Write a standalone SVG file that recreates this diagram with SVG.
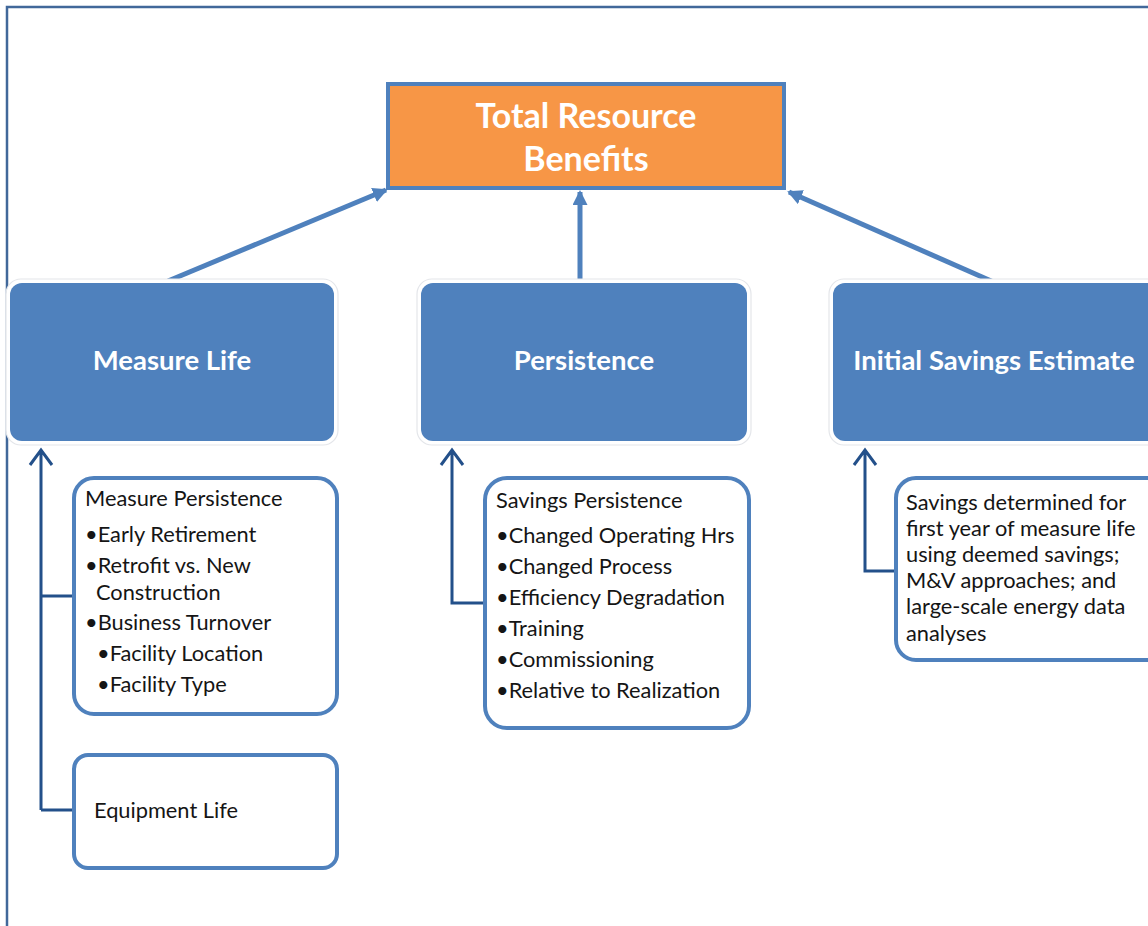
<svg xmlns="http://www.w3.org/2000/svg" width="1148" height="926" viewBox="0 0 1148 926">
<defs>
<style>
.frame{fill:none;stroke:#41689a;stroke-width:2.5}
.hdr{fill:#4f81bd}
.halo{fill:#fff;stroke:#e4e6ea;stroke-width:1.2}
.tb{fill:#fff;stroke:#4f81bd;stroke-width:4}
.w{font-family:Lato,"Liberation Sans",sans-serif;font-weight:bold;fill:#fff;text-anchor:middle}
.t{font-family:Lato,"Liberation Sans",sans-serif;font-size:21.8px;fill:#151515}
.big{stroke:#4f81bd;stroke-width:5;fill:none}
.dk{stroke:#23508a;stroke-width:3;fill:none}
</style>
<marker id="ah" markerWidth="3" markerHeight="3" refX="2.6" refY="1.5" orient="auto" markerUnits="strokeWidth">
<path d="M0,0 L3,1.5 L0,3 Z" fill="#4f81bd"/>
</marker>
</defs>
<rect width="1148" height="926" fill="#fff"/>
<path class="frame" d="M7,926 V7 H1148"/>

<g id="connectors">
<line class="big" x1="168" y1="281" x2="386" y2="190" marker-end="url(#ah)"/>
<line class="big" x1="580" y1="281" x2="580" y2="192" marker-end="url(#ah)"/>
<line class="big" x1="998" y1="284" x2="789" y2="192" marker-end="url(#ah)"/>
<path class="dk" d="M41,810 V450 M74,596 H41 M74,810 H41 M30,465 L41,450 L52,465"/>
<path class="dk" d="M485,603 H452 V450 M441,465 L452,450 L463,465"/>
<path class="dk" d="M896,571 H865 V450 M854,465 L865,450 L876,465"/>
</g>

<g id="total">
<rect x="388" y="84" width="396" height="104" fill="#f79646" stroke="#4f81bd" stroke-width="4"/>
<text class="w" x="586" y="128" font-size="34">Total Resource</text>
<text class="w" x="586" y="171" font-size="34">Benefits</text>
</g>

<g id="measure-life">
<rect class="halo" x="6" y="279" width="332" height="166" rx="15"/>
<rect class="hdr" x="10" y="283" width="324" height="158" rx="12"/>
<text class="w" x="172" y="370" font-size="27.5">Measure Life</text>
</g>

<g id="persistence">
<rect class="halo" x="417" y="279" width="334" height="166" rx="15"/>
<rect class="hdr" x="421" y="283" width="326" height="158" rx="12"/>
<text class="w" x="584" y="370" font-size="27.5">Persistence</text>
</g>

<g id="initial-savings">
<rect class="halo" x="829" y="279" width="340" height="166" rx="15"/>
<rect class="hdr" x="833" y="283" width="330" height="158" rx="12"/>
<text class="w" x="994" y="370" font-size="27.5">Initial Savings Estimate</text>
</g>

<g id="measure-persistence">
<rect class="tb" x="74" y="478" width="263" height="236" rx="20"/>
<text class="t" x="85" y="506">Measure Persistence</text>
<text class="t" x="85" y="542">•Early Retirement</text>
<text class="t" x="85" y="573">•Retrofit vs. New</text>
<text class="t" x="96" y="600">Construction</text>
<text class="t" x="85" y="630">•Business Turnover</text>
<text class="t" x="97" y="661">•Facility Location</text>
<text class="t" x="97" y="692">•Facility Type</text>
</g>

<g id="equipment-life">
<rect class="tb" x="74" y="755" width="263" height="113" rx="14"/>
<text class="t" x="94" y="818">Equipment Life</text>
</g>

<g id="savings-persistence">
<rect class="tb" x="485" y="478" width="264" height="250" rx="22"/>
<text class="t" x="496" y="508">Savings Persistence</text>
<text class="t" x="496" y="543">•Changed Operating Hrs</text>
<text class="t" x="496" y="574">•Changed Process</text>
<text class="t" x="496" y="605">•Efficiency Degradation</text>
<text class="t" x="496" y="636">•Training</text>
<text class="t" x="496" y="667">•Commissioning</text>
<text class="t" x="496" y="698">•Relative to Realization</text>
</g>

<g id="savings-determined">
<rect class="tb" x="896" y="478" width="270" height="182" rx="20"/>
<text class="t" x="906" y="510">Savings determined for</text>
<text class="t" x="906" y="536">first year of measure life</text>
<text class="t" x="906" y="562">using deemed savings;</text>
<text class="t" x="906" y="588">M&amp;V approaches; and</text>
<text class="t" x="906" y="614">large-scale energy data</text>
<text class="t" x="906" y="641">analyses</text>
</g>
</svg>
